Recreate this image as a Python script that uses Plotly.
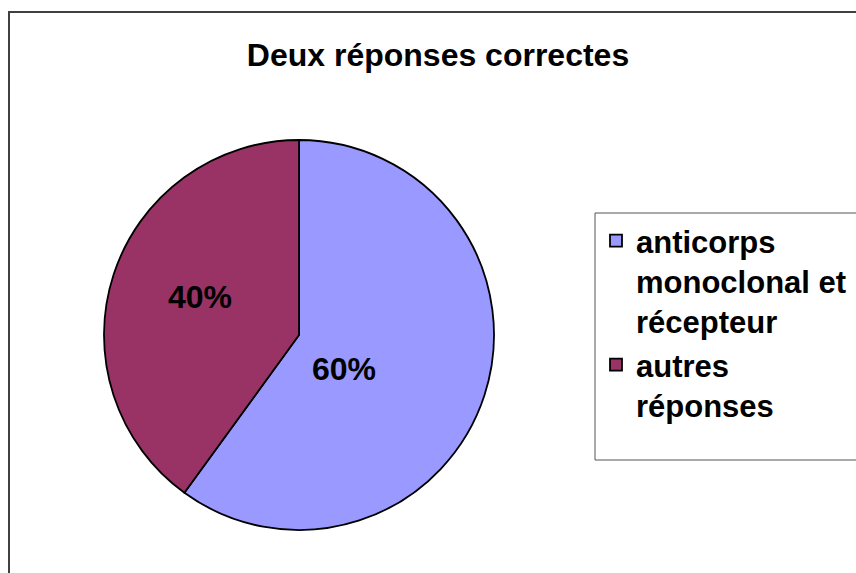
import plotly.graph_objects as go

W, H = 856, 573

TITLE = "Deux réponses correctes"
LABELS = ["anticorps<br>monoclonal et<br>récepteur", "autres<br>réponses"]
VALUES = [60, 40]
COLORS = ["#9999FF", "#993366"]

FONT = "Arial, Liberation Sans, sans-serif"


def px(x):
    return x / W


def py(y):
    return (H - y) / H


fig = go.Figure()

fig.add_trace(go.Pie(
    labels=LABELS,
    values=VALUES,
    sort=False,
    direction="clockwise",
    rotation=0,
    marker=dict(colors=COLORS, line=dict(color="black", width=1.8)),
    textinfo="none",
    hoverinfo="label+percent",
    domain=dict(x=[px(104), px(494)], y=[py(530), py(140)]),
))

# percentage labels where the original puts them
label_pos = [(344, 369), (200, 297)]
for v, (lx, ly) in zip(VALUES, label_pos):
    fig.add_annotation(
        x=px(lx), y=py(ly), xref="paper", yref="paper",
        text=f"{v}%", showarrow=False,
        font=dict(family=FONT, size=32, color="black", weight="bold"),
        xanchor="center", yanchor="middle",
    )

# chart area frame and legend frame
fig.add_shape(type="rect", xref="paper", yref="paper",
              x0=px(9), x1=px(W + 20), y0=py(H + 20), y1=py(12),
              line=dict(color="#404040", width=2), layer="below")
fig.add_shape(type="rect", xref="paper", yref="paper",
              x0=px(595), x1=px(W + 20), y0=py(460), y1=py(213),
              line=dict(color="#555555", width=1))

fig.update_layout(
    width=W, height=H,
    margin=dict(l=0, r=0, t=0, b=0),
    paper_bgcolor="white",
    plot_bgcolor="white",
    title=dict(
        text=TITLE, x=px(438), y=py(55),
        xanchor="center", yanchor="middle",
        font=dict(family=FONT, size=32, color="black", weight="bold"),
    ),
    legend=dict(
        x=px(596), y=py(214), xanchor="left", yanchor="top",
        font=dict(family=FONT, size=31, color="black", weight="bold"),
        bgcolor="rgba(0,0,0,0)", borderwidth=0,
        tracegroupgap=0, valign="top",
    ),
    showlegend=True,
)

fig.write_html(
    "out.html",
    config={"displayModeBar": False},
    post_script="document.body.style.margin='0';",
)
